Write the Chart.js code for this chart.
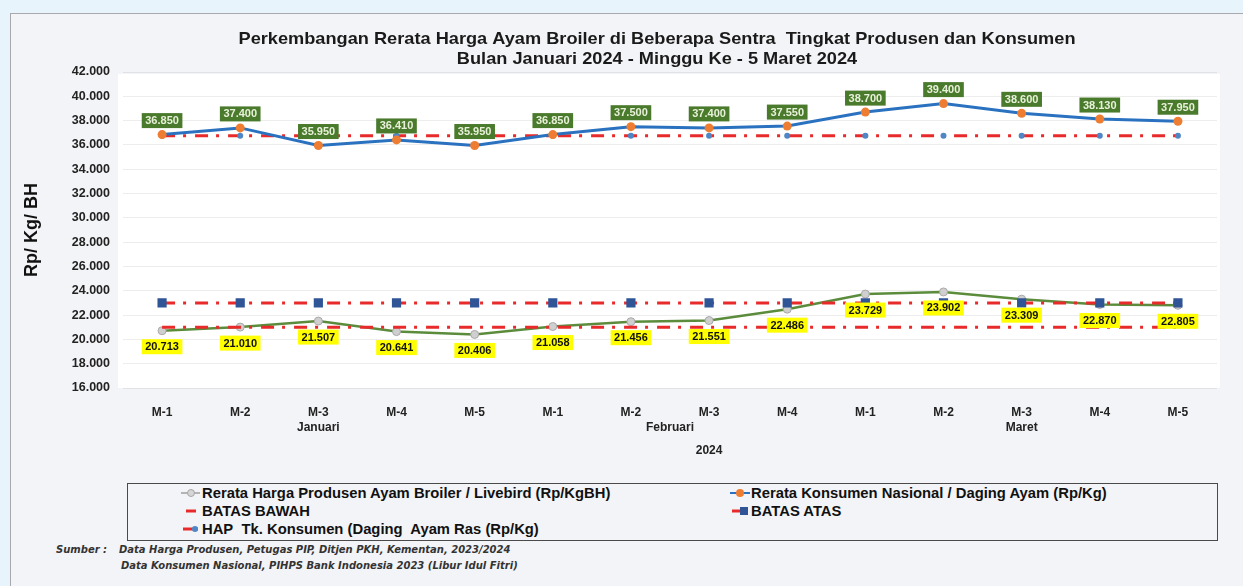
<!DOCTYPE html>
<html>
<head>
<meta charset="utf-8">
<script src="https://cdn.jsdelivr.net/npm/chart.js@4.4.1/dist/chart.umd.min.js"></script>
<style>
  html, body { margin: 0; padding: 0; }
  body { width: 1243px; height: 586px; background: #e8f4fb; position: relative; overflow: hidden;
         font-family: "Liberation Sans", Arial, sans-serif; }
  #panel { position: absolute; left: 10px; top: 13px; width: 1260px; height: 600px;
           background: #f3f4f7; border: 1px solid #a9a9ad; }
  #chart { position: absolute; left: 0; top: 0; }
  #legend { position: absolute; left: 127px; top: 483px; width: 1091px; height: 58px;
            border: 1.5px solid #4a4a4a; box-sizing: border-box; }
  .item { position: absolute; font-weight: bold; font-size: 14.8px; color: #111; white-space: nowrap; line-height: 16px; }
  .item svg { position: absolute; left: -22px; top: 1px; }
  .src { position: absolute; font-style: italic; font-weight: bold; font-size: 10px; color: #333; white-space: nowrap;
         font-family: "DejaVu Sans", sans-serif; }
</style>
</head>
<body>
<div id="panel"></div>
<canvas id="chart" width="1243" height="470"></canvas>

<div id="legend"></div>
<div class="item" style="left:202px; top:485px;">
  <svg width="22" height="14"><line x1="1" y1="7" x2="20" y2="7" stroke="#b4b4b4" stroke-width="2"/><circle cx="11" cy="7" r="3.5" fill="#d6d6d6" stroke="#a6a6a6"/></svg>Rerata Harga Produsen Ayam Broiler / Livebird (Rp/KgBH)</div>
<div class="item" style="left:202px; top:503px;">
  <svg width="22" height="14"><line x1="6" y1="7" x2="16" y2="7" stroke="#e82a2a" stroke-width="3"/></svg>BATAS BAWAH</div>
<div class="item" style="left:202px; top:521px;">
  <svg width="22" height="14"><line x1="3" y1="7" x2="18" y2="7" stroke="#e82a2a" stroke-width="3"/><circle cx="15" cy="7" r="3" fill="#4f86c6"/></svg>HAP&nbsp; Tk. Konsumen (Daging&nbsp; Ayam Ras (Rp/Kg)</div>
<div class="item" style="left:751px; top:485px;">
  <svg width="22" height="14"><line x1="1" y1="7" x2="21" y2="7" stroke="#2a72c0" stroke-width="2"/><circle cx="11" cy="7" r="4" fill="#ee7d31"/></svg>Rerata Konsumen Nasional / Daging Ayam (Rp/Kg)</div>
<div class="item" style="left:751px; top:503px;">
  <svg width="22" height="14"><line x1="3" y1="7" x2="18" y2="7" stroke="#e82a2a" stroke-width="3"/><rect x="11" y="3" width="8" height="8" fill="#2f5597"/></svg>BATAS ATAS</div>

<div class="src" style="left:56px; top:544px;">Sumber :</div>
<div class="src" style="left:119px; top:544px;">Data Harga Produsen, Petugas PIP, Ditjen PKH, Kementan, 2023/2024</div>
<div class="src" style="left:121px; top:560px;">Data Konsumen Nasional, PIHPS Bank Indonesia 2023 (Libur Idul Fitri)</div>

<script>
// categories
const weeks = ['M-1', 'M-2', 'M-3', 'M-4', 'M-5', 'M-1', 'M-2', 'M-3', 'M-4', 'M-1', 'M-2', 'M-3', 'M-4', 'M-5'];
const months = ['Januari', 'Februari', 'Maret'];
const monthWeeks = [5, 4, 5];
const yearLabel = '2024';

// series (Rp/Kg)
const konsumen = [36850, 37400, 35950, 36410, 35950, 36850, 37500, 37400, 37550, 38700, 39400, 38600, 38130, 37950];
const produsen = [20713, 21010, 21507, 20641, 20406, 21058, 21456, 21551, 22486, 23729, 23902, 23309, 22870, 22805];
const hap = [36750, 36750, 36750, 36750, 36750, 36750, 36750, 36750, 36750, 36750, 36750, 36750, 36750, 36750];
const batasAtas = [23000, 23000, 23000, 23000, 23000, 23000, 23000, 23000, 23000, 23000, 23000, 23000, 23000, 23000];
const batasBawah = [21000, 21000, 21000, 21000, 21000, 21000, 21000, 21000, 21000, 21000, 21000, 21000, 21000, 21000];

// y axis
const yMin = 16000;
const yMax = 42000;
const yStep = 2000;

const titleLines = [
  'Perkembangan Rerata Harga Ayam Broiler di Beberapa Sentra  Tingkat Produsen dan Konsumen',
  'Bulan Januari 2024 - Minggu Ke - 5 Maret 2024'
];
const yTitle = 'Rp/ Kg/ BH';

const fmt = v => String(v).replace(/\B(?=(\d{3})+(?!\d))/g, '.');
const FONT = '"Liberation Sans", Arial, sans-serif';
const dashDot = [13, 8, 3, 9];

function tag(ctx, x, y, text, bg, fg) {
  ctx.font = 'bold 11px ' + FONT;
  const w = ctx.measureText(text).width + 7, h = 15;
  ctx.fillStyle = bg;
  ctx.fillRect(x - w / 2, y - h / 2, w, h);
  ctx.fillStyle = fg;
  ctx.textAlign = 'center';
  ctx.textBaseline = 'middle';
  ctx.fillText(text, x, y + 0.5);
}

const decor = {
  id: 'decor',
  beforeDraw(chart) {
    const { ctx, chartArea: a } = chart;
    ctx.save();
    ctx.fillStyle = '#ffffff';
    ctx.fillRect(a.left - 5, a.top + 2, a.right - a.left + 8, a.bottom - a.top - 2);
    ctx.restore();
  },
  afterDatasetsDraw(chart) {
    const ctx = chart.ctx;
    ctx.save();
    chart.data.datasets.forEach((ds, i) => {
      if (!ds.tag) return;
      const meta = chart.getDatasetMeta(i);
      meta.data.forEach((pt, j) => {
        if (ds.tag === 'green') tag(ctx, pt.x, pt.y - 14, fmt(ds.data[j]), '#4a7a2c', '#e8f1da');
        else tag(ctx, pt.x, pt.y + 16, fmt(ds.data[j]), '#ffff00', '#111111');
      });
    });
    ctx.restore();
  },
  afterDraw(chart) {
    const { ctx, chartArea: a, scales } = chart;
    const x = scales.x;
    ctx.save();
    ctx.fillStyle = '#1a1a1a';
    ctx.textAlign = 'center';
    ctx.textBaseline = 'middle';
    const cx = (a.left + a.right) / 2 - 13;
    ctx.save();
    ctx.translate(cx, 0);
    ctx.scale(1.07, 1);
    ctx.font = 'bold 17px ' + FONT;
    ctx.fillText(titleLines[0], 0, 39);
    ctx.fillText(titleLines[1], 0, 59);
    ctx.restore();

    // month groups
    ctx.font = 'bold 12px ' + FONT;
    ctx.fillStyle = '#222';
    let start = 0;
    months.forEach((m, i) => {
      const end = start + monthWeeks[i] - 1;
      const mx = (x.getPixelForValue(start) + x.getPixelForValue(end)) / 2;
      ctx.fillText(m, mx, a.bottom + 40);
      start = end + 1;
    });
    ctx.fillText(yearLabel, x.getPixelForValue(7), a.bottom + 63);

    // y title
    ctx.translate(32, (a.top + a.bottom) / 2);
    ctx.rotate(-Math.PI / 2);
    ctx.font = 'bold 18px ' + FONT;
    ctx.fillStyle = '#111';
    ctx.fillText(yTitle, 0, 0);
    ctx.restore();
  }
};

const redLine = { borderColor: '#e82a2a', borderWidth: 3, borderDash: dashDot, tension: 0 };

new Chart(document.getElementById('chart'), {
  type: 'line',
  data: {
    labels: weeks,
    datasets: [
      { label: 'Rerata Konsumen Nasional / Daging Ayam (Rp/Kg)', data: konsumen, tag: 'green',
        borderColor: '#2a72c0', borderWidth: 3, pointRadius: 4.5, pointBackgroundColor: '#ee7d31',
        pointBorderWidth: 0, order: 1 },
      { label: 'HAP  Tk. Konsumen (Daging  Ayam Ras (Rp/Kg)', data: hap, ...redLine,
        pointRadius: 3, pointBackgroundColor: '#4f86c6', pointBorderWidth: 0, order: 2 },
      { label: 'BATAS ATAS', data: batasAtas, ...redLine, pointStyle: 'rect',
        pointRadius: 6.5, pointBackgroundColor: '#2f5597', pointBorderWidth: 0, order: 3 },
      { label: 'BATAS BAWAH', data: batasBawah, ...redLine, pointRadius: 0, order: 4 },
      { label: 'Rerata Harga Produsen Ayam Broiler / Livebird (Rp/KgBH)', data: produsen, tag: 'yellow',
        borderColor: '#5b8c3c', borderWidth: 2.5, pointRadius: 4, pointBackgroundColor: '#cfcfcf',
        pointBorderColor: '#a9a9a9', pointBorderWidth: 1, order: 5 }
    ]
  },
  options: {
    responsive: false,
    animation: false,
    devicePixelRatio: 1,
    layout: { padding: { top: 72, right: 26, left: 0, bottom: 0 } },
    plugins: { legend: { display: false }, tooltip: { enabled: false } },
    scales: {
      x: {
        offset: true,
        grid: { display: false },
        border: { display: false },
        ticks: { font: { family: FONT, size: 12, weight: 'bold' }, color: '#222', padding: 9, maxRotation: 0, autoSkip: false },
        afterFit(s) { s.height = 82; }
      },
      y: {
        min: yMin, max: yMax,
        grid: { color: 'rgba(0,0,0,0.07)', drawTicks: false },
        border: { display: false },
        ticks: { stepSize: yStep, callback: v => fmt(v), padding: 13,
                 font: { family: FONT, size: 12.5, weight: 'bold' }, color: '#222' },
        afterFit(s) { s.width = 123; }
      }
    }
  },
  plugins: [decor]
});
</script>
</body>
</html>
